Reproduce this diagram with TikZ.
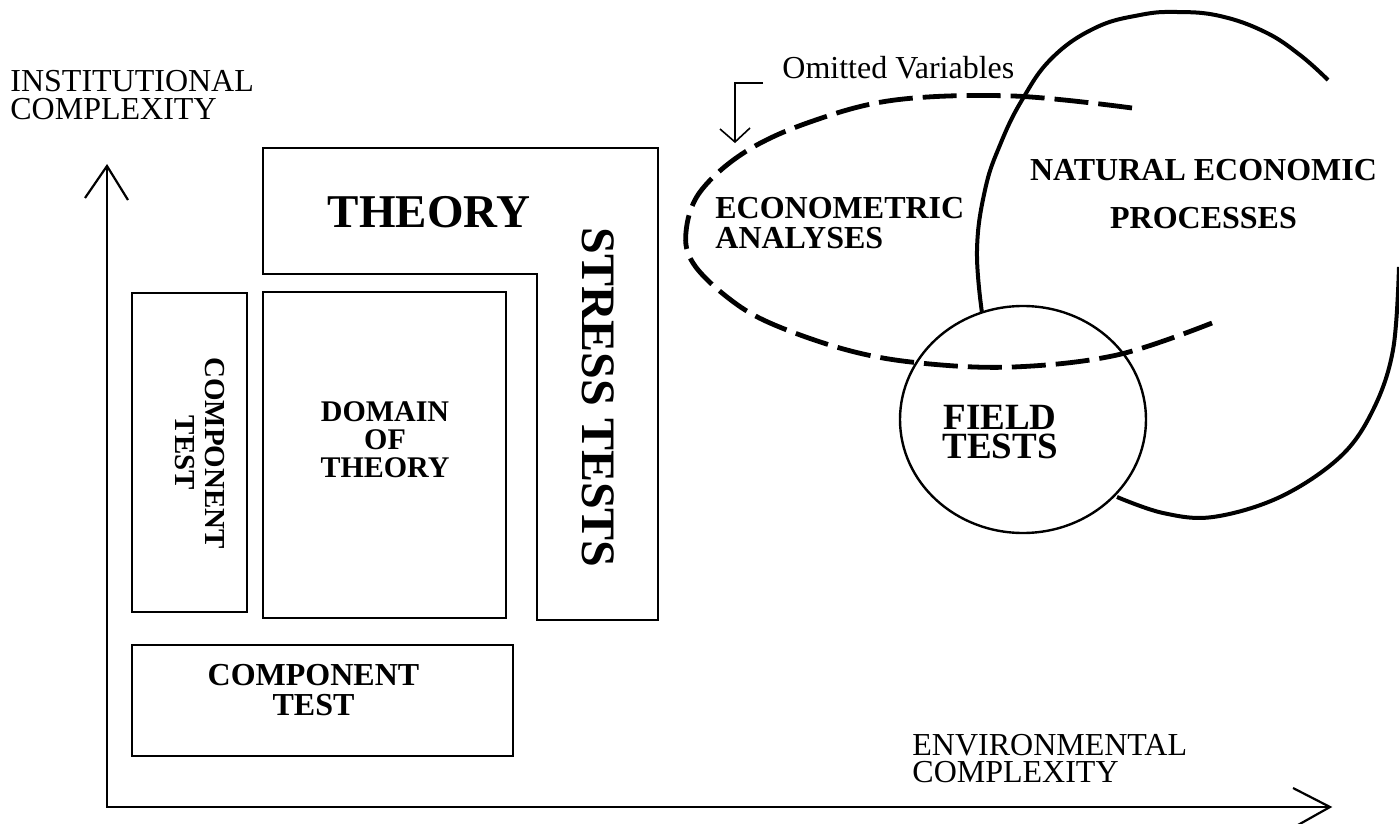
\documentclass[tikz,border=0pt]{standalone}
\usepackage{fontspec}
\setmainfont{Liberation Serif}
\usetikzlibrary{shapes.geometric}
\tikzset{
  boxline/.style={draw, line width=1.1pt},
  axisline/.style={line width=1.1pt},
  boldlbl/.style={inner sep=0pt, align=center},
  plainlbl/.style={inner sep=0pt, align=left},
  dashline/.style={line width=2.4pt, dash pattern=on 17pt off 5pt},
  bigcurve/.style={line width=2pt},
  thinarrow/.style={line width=0.8pt},
}
\begin{document}
\begin{tikzpicture}[x=0.5pt,y=-0.5pt]
\useasboundingbox (0,0) rectangle (1399,824);
\fill[white] (0,0) rectangle (1399,824);

% axes
\coordinate (origin) at (107,807);
\coordinate (ytip) at (107,166);
\coordinate (xtip) at (1330,807);
\draw[axisline] (ytip) -- (origin) -- (xtip);
\draw[axisline] (85,198) -- (ytip) -- (128,200);
\draw[axisline] (1293,788) -- (xtip) -- (1298,825);
\node[plainlbl, anchor=west, font=\fontsize{16}{13.6}\selectfont] (inst) at (10,95) {INSTITUTIONAL\\COMPLEXITY};
\node[plainlbl, anchor=west, font=\fontsize{16}{13.6}\selectfont] (env) at (912,758.5) {ENVIRONMENTAL\\COMPLEXITY};

% theory L-shape
\draw[boxline] (263,148) -- (658,148) -- (658,620) -- (537,620) -- (537,274) -- (263,274) -- cycle;
\node[boldlbl, font=\fontsize{23.5}{24}\selectfont\bfseries] (theory) at (429,212.5) {THEORY};
\node[boldlbl, rotate=-90, font=\fontsize{24}{24}\selectfont\bfseries] (stress) at (598.5,397.5) {STRESS TESTS};

% domain of theory
\draw[boxline] (263,292) rectangle (506,618);
\node[boldlbl, font=\fontsize{15}{14}\selectfont\bfseries] (domain) at (385,440) {DOMAIN\\OF\\THEORY};

% component tests
\draw[boxline] (132,293) rectangle (247,612);
\node[boldlbl, rotate=-90, font=\fontsize{14.5}{15}\selectfont\bfseries] (compv) at (200,453) {COMPONENT\\TEST};
\draw[boxline] (132,645) rectangle (513,756);
\node[boldlbl, font=\fontsize{16}{15}\selectfont\bfseries] (comph) at (313.5,690.5) {COMPONENT\\TEST};

% omitted variables
\node[inner sep=0pt, anchor=base west, font=\fontsize{16}{16}\selectfont] (omit) at (782,79) {Omitted Variables};
\coordinate (omitA) at (763,83);
\coordinate (omitB) at (735,83);
\coordinate (omitTip) at (735,142);
\draw[thinarrow] (omitA) -- (omitB) -- (omitTip);
\draw[thinarrow] (720,129) -- (omitTip) -- (750,128);

% econometric dashed curve
\draw[dashline] plot[smooth, tension=0.6] coordinates {(1132,108) (1013,96) (895,100) (810,122) (745,152) (700,192) (686,232) (693,263) (727,297) (770,323) (847,350) (920,363) (1013,367) (1117,355) (1212,323)};
\node[plainlbl, anchor=west, font=\fontsize{16}{15}\selectfont\bfseries] (econ) at (715,223.5) {ECONOMETRIC\\ANALYSES};

% natural economic processes
\draw[bigcurve] plot[smooth, tension=0.7] coordinates {(982,313) (977,250) (985,190) (1000,145) (1022,100) (1052,58) (1095,28) (1140,15) (1177,12) (1220,16) (1265,32) (1300,55) (1328,80)};
\draw[bigcurve] plot[smooth, tension=0.6] coordinates {(1399,267) (1393,350) (1373,410) (1340,457) (1280,497) (1213,517) (1163,513) (1117,497)};
\node[boldlbl, font=\fontsize{16}{24}\selectfont\bfseries] (nep) at (1203.5,194) {NATURAL ECONOMIC\\PROCESSES};

% field tests
\node[draw, ellipse, line width=1.2pt, minimum width=123pt, minimum height=113.5pt, inner sep=0pt] (fieldc) at (1023,419.5) {};
\node[boldlbl, font=\fontsize{18.5}{14.6}\selectfont\bfseries] (fieldt) at (1000,432) {FIELD\\TESTS};
\end{tikzpicture}
\end{document}
